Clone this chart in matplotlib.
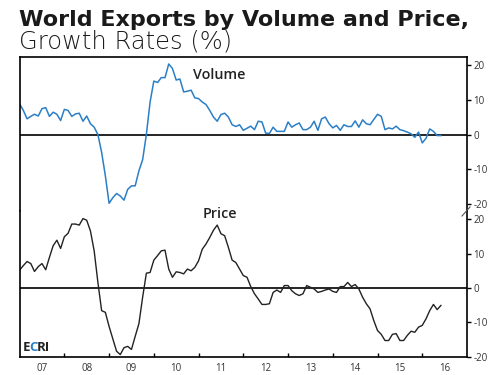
import numpy as np
import matplotlib
matplotlib.use("Agg")
import matplotlib.pyplot as plt
from matplotlib.transforms import offset_copy

# monthly growth rates, Jan 2007 .. Jun 2016
volume = [
    8.8, 6.9, 4.5, 5.2, 5.8, 5.3, 7.4, 7.7, 5.2, 6.4, 5.8, 4.0,
    7.2, 6.9, 5.2, 5.9, 6.1, 3.8, 5.3, 3.1, 2.1, 0.0, -5.1, -11.8,
    -19.7, -18.1, -16.9, -17.6, -18.8, -15.7, -14.7, -14.7, -10.4, -7.2, 0.0, 9.3,
    15.3, 14.9, 16.3, 16.3, 20.2, 18.9, 15.6, 15.9, 12.2, 12.4, 12.7, 10.5,
    10.3, 9.3, 8.6, 6.9, 5.0, 3.8, 5.7, 6.1, 5.0, 2.8, 2.3, 2.8,
    1.2, 1.8, 2.4, 1.4, 3.8, 3.6, 0.4, 0.3, 2.1, 0.9, 0.9, 0.9,
    3.6, 2.1, 2.8, 3.3, 1.4, 1.4, 2.1, 3.8, 1.2, 4.5, 5.0, 3.1,
    1.9, 2.6, 1.2, 2.8, 2.3, 2.3, 3.9, 2.1, 4.2, 3.1, 2.8, 4.3,
    5.8, 5.2, 1.4, 1.9, 1.6, 2.4, 1.4, 1.1, 0.7, 0.2, -0.8, 0.7,
    -2.4, -1.1, 1.6, 0.9, -0.3, -0.3,
]
price = [
    5.2, 6.5, 7.7, 7.1, 4.8, 6.2, 7.1, 5.3, 8.9, 12.3, 13.9, 11.5,
    14.9, 15.9, 18.6, 18.6, 18.3, 20.2, 19.7, 16.6, 10.8, 1.6, -6.6, -7.1,
    -11.2, -14.8, -18.4, -19.4, -17.4, -17.0, -17.9, -14.1, -10.4, -2.7, 4.3, 4.5,
    8.1, 9.4, 10.8, 11.0, 5.5, 3.1, 4.7, 4.5, 4.1, 5.5, 5.0, 6.0,
    7.9, 11.3, 12.8, 14.7, 16.8, 18.3, 15.8, 15.2, 11.8, 8.1, 7.4, 5.5,
    3.6, 3.1, 0.4, -1.7, -3.2, -4.8, -4.8, -4.6, -1.3, -0.6, -1.3, 0.7,
    0.7, -0.8, -1.7, -2.2, -1.7, 0.7, 0.2, -0.3, -1.3, -1.0, -0.6, -0.3,
    -1.0, -1.3, 0.4, 0.4, 1.6, 0.4, 1.0, -0.3, -2.7, -4.6, -6.1, -9.5,
    -12.4, -13.5, -15.3, -15.3, -13.5, -13.3, -15.3, -15.3, -13.8, -12.6, -12.9, -11.4,
    -10.9, -9.0, -6.6, -4.8, -6.3, -5.1,
]
years = list(range(2007, 2017))
year_labels = ["07", "08", "09", "10", "11", "12", "13", "14", "15", "16"]
y_ticks = [-20, -10, 0, 10, 20]

t = 2007 + np.arange(len(volume)) / 12.0

plt.rcParams['font.family'] = ['Open Sans', 'DejaVu Sans']
W, H = 495, 375
fig = plt.figure(figsize=(W / 100, H / 100), dpi=100)

left, right = 19.6 / W, 467 / W
split = 1 - 211 / H
ax1 = fig.add_axes([left, split, right - left, (1 - 57 / H) - split])
ax2 = fig.add_axes([left, 1 - 357 / H, right - left, split - (1 - 357 / H)])

tick_color = '#333333'
for ax in (ax1, ax2):
    ax.set_xlim(2007, 2017)
    ax.axhline(0, color='black', lw=1.2, zorder=1)
    ax.yaxis.tick_right()
    ax.set_yticks(y_ticks)
    ax.set_yticklabels([str(v) for v in y_ticks])
    ax.tick_params(axis='y', direction='out', length=3, width=1, pad=1.5,
                   labelsize=7, labelcolor=tick_color)
    for s in ax.spines.values():
        s.set_linewidth(1.2)

ax1.plot(t, volume, color='#2b7fc6', lw=1.1, zorder=2)
ax1.set_ylim(-21.9, 22.2)
ax1.spines['bottom'].set_visible(False)
ax1.set_xticks([])

ax2.plot(t, price, color='#222222', lw=1.0, zorder=2)
ax2.set_ylim(-20.1, 22.4)
ax2.spines['top'].set_visible(False)
ax2.set_xticks(years[1:])
ax2.set_xticklabels([])
ax2.tick_params(axis='x', direction='in', length=3, width=1)
ax2.set_xticks([y + 0.5 for y in years], minor=True)
ax2.set_xticklabels(year_labels, minor=True)
ax2.tick_params(axis='x', which='minor', length=0, pad=4, labelsize=7,
                labelcolor=tick_color)

ax1.text(2010.88, 17, "Volume", fontsize=10.3, color='#222222', va='center',
         fontweight='semibold')
ax2.text(2011.08, 21.5, "Price", fontsize=10.3, color='#222222', va='center',
         fontweight='semibold')

t1 = fig.text(19 / W, 1 - 26 / H, "World Exports by Volume and Price,",
              fontsize=16, fontweight='bold', color='#1a1a1a', va='baseline',
              family='DejaVu Sans')
t2 = fig.text(19 / W, 1 - 49 / H, "Growth Rates (%)", fontsize=16,
              fontweight='light', color='#1a1a1a', va='baseline',
              family='DejaVu Sans')

# axis break mark on the right spine
fig.add_artist(plt.Line2D([462 / W, 470 / W], [1 - 216 / H, 1 - 207 / H],
                          color='#555555', lw=0.8))

# stretch title font sizes to the widths in the original
fig.canvas.draw()
r = fig.canvas.get_renderer()
for txt, target in ((t1, 451), (t2, 214)):
    w = txt.get_window_extent(r).width
    txt.set_fontsize(txt.get_fontsize() * target / w)

# ECRI mark with a blue C, pieces placed side by side
logo = dict(fontsize=9.5, fontweight='bold', va='center')


def text_width(s):
    tmp = fig.text(0, 0, s, **logo)
    w = tmp.get_window_extent(r).width
    tmp.remove()
    return w


x_c = text_width("EC") - text_width("C") - 1.5
x_ri = text_width("ECRI") - text_width("RI") - 2.0
pts = 72.0 / fig.dpi
for s, dx, col in (("E", 0, '#222222'), ("C", x_c, '#2b7fc6'),
                   ("RI", x_ri, '#222222')):
    tr = offset_copy(ax2.transData, fig=fig, x=dx * pts, y=0, units='points')
    ax2.text(2007.08, -17.3, s, color=col, transform=tr, **logo)

fig.savefig("out.png", dpi=100)
